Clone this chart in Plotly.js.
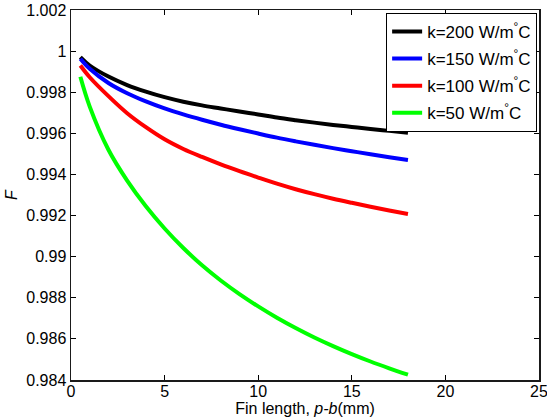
<!DOCTYPE html>
<html>
<head>
<meta charset="utf-8">
<script src="https://cdn.plot.ly/plotly-3.0.1.min.js"></script>
<style>
  html, body { margin: 0; padding: 0; background: #fff; }
  #chart { width: 547px; height: 420px; }
</style>
</head>
<body>
<div id="chart"></div>
<script>
// Fin length p-b (mm)
const finLength = [0.5, 1, 2, 3, 4, 5, 6, 7, 8, 9, 10, 11, 12, 13, 14, 15, 16, 17, 18];

// Correction factor F for each fin conductivity
const fK200 = [0.99971, 0.99930, 0.99876, 0.99835, 0.99803, 0.99776, 0.99754, 0.99736, 0.99721, 0.99706,
               0.99692, 0.99677, 0.99664, 0.99652, 0.99641, 0.99631, 0.99621, 0.99612, 0.99603];
const fK150 = [0.99963, 0.99914, 0.99845, 0.99795, 0.99755, 0.99721, 0.99692, 0.99666, 0.99642, 0.99620,
               0.99599, 0.99579, 0.99561, 0.99544, 0.99528, 0.99513, 0.99498, 0.99484, 0.99470];
const fK100 = [0.99930, 0.99873, 0.99781, 0.99698, 0.99630, 0.99571, 0.99524, 0.99485, 0.99449, 0.99416,
               0.99385, 0.99355, 0.99328, 0.99304, 0.99282, 0.99262, 0.99243, 0.99225, 0.99208];
const fK50  = [0.99875, 0.99730, 0.99520, 0.99370, 0.99245, 0.99137, 0.99042, 0.98958, 0.98884, 0.98818,
               0.98758, 0.98703, 0.98653, 0.98607, 0.98565, 0.98526, 0.98490, 0.98457, 0.98426];

const seriesNames = ['k=200 W/m<sup>°</sup>C', 'k=150 W/m<sup>°</sup>C',
                     'k=100 W/m<sup>°</sup>C', 'k=50 W/m<sup>°</sup>C'];
const seriesColors = ['#000000', '#0000ff', '#ff0000', '#00ff00'];
const seriesValues = [fK200, fK150, fK100, fK50];

// X tick labels and Y tick labels
const xTicks = [0, 5, 10, 15, 20, 25];
const xTickText = ['0', '5', '10', '15', '20', '25'];
const yTicks = [0.984, 0.986, 0.988, 0.99, 0.992, 0.994, 0.996, 0.998, 1, 1.002];
const yTickText = ['0.984', '0.986', '0.988', '0.99', '0.992', '0.994', '0.996', '0.998', '1', '1.002'];

const traces = seriesValues.map((vals, i) => ({
  type: 'scatter',
  mode: 'lines',
  x: finLength,
  y: vals,
  name: seriesNames[i],
  legendgroup: 'g' + i,
  line: { color: seriesColors[i], width: 4, shape: 'spline' }
}));

const axisFont = { family: 'Liberation Sans, Arial, sans-serif', size: 16, color: '#000' };

const layout = {
  width: 547,
  height: 420,
  margin: { l: 71, r: 8, t: 10, b: 40 },
  paper_bgcolor: '#fff',
  plot_bgcolor: '#fff',
  font: axisFont,
  showlegend: true,
  legend: {
    x: 0.996, y: 0.992, xanchor: 'right', yanchor: 'top',
    bgcolor: '#fff', bordercolor: '#000', borderwidth: 1,
    font: { family: 'Liberation Sans, Arial, sans-serif', size: 17, color: '#000' },
    tracegroupgap: 2
  },
  xaxis: {
    range: [0, 25],
    tickvals: xTicks,
    ticktext: xTickText,
    ticks: 'inside', ticklen: 5, tickwidth: 1, tickcolor: '#000',
    showline: true, linecolor: '#1a1a1a', linewidth: 1.5, mirror: 'ticks',
    showgrid: false, zeroline: false,
    tickfont: axisFont,
    ticklabeloverflow: 'allow',
    ticklabelstandoff: -4,
    title: { text: 'Fin length, <i>p-b</i>(mm)', font: axisFont, standoff: 4 }
  },
  yaxis: {
    range: [0.984, 1.002],
    tickvals: yTicks,
    ticktext: yTickText,
    ticks: 'inside', ticklen: 5, tickwidth: 1, tickcolor: '#000',
    showline: true, linecolor: '#1a1a1a', linewidth: 1.5, mirror: 'ticks',
    showgrid: false, zeroline: false,
    tickfont: axisFont,
    title: { text: '<i>F</i>', font: axisFont, standoff: 4 }
  }
};

Plotly.newPlot('chart', traces, layout, { displayModeBar: false, staticPlot: true });
</script>
</body>
</html>
